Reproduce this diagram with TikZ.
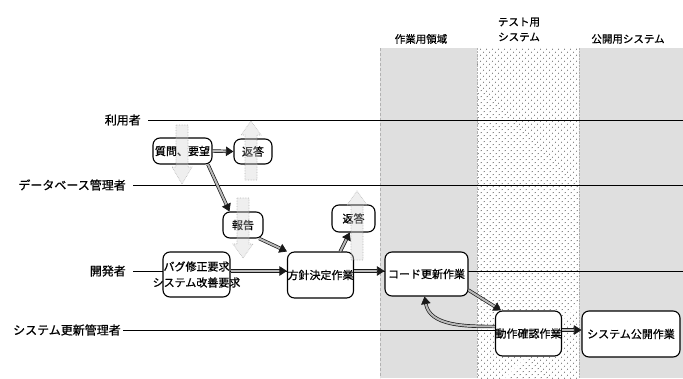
\documentclass[tikz,border=0pt]{standalone}
\usepackage{fontspec}
\newfontfamily\jp[FakeBold=0.8]{Noto Sans CJK JP}
\usetikzlibrary{arrows.meta,patterns.meta}
\begin{document}
\begin{tikzpicture}[x=1pt,y=-1pt,
  box/.style={draw=black, line width=1.1pt, rounded corners=7pt, fill=white, inner sep=0pt, font=\jp\fontsize{11}{16}\selectfont, align=center},
  lanelab/.style={font=\jp\fontsize{12}{14}\selectfont, anchor=east, inner sep=0pt},
  colhead/.style={font=\jp\fontsize{10.5}{15}\selectfont, align=center, inner sep=0pt},
  laneline/.style={line width=0.9pt, draw=black},
  fat/.style={draw=black!90, line width=0.7pt, double=gray!55, double distance=2pt, -{Triangle[length=7.5pt,width=9.5pt]}},
  ghost/.style={draw=gray!70, densely dotted, line width=0.6pt, fill=gray!35, fill opacity=0.35, draw opacity=0.8},
  noisecol/.style={fill=gray!25},
  dotcol/.style={pattern={Dots[distance=4pt,radius=0.6pt,angle=45]}, pattern color=black!70}
]
\path[use as bounding box, fill=white] (0,0) rectangle (683,378);

% columns
\fill[noisecol] (380,48) rectangle (477,378);
\fill[dotcol] (477,48) rectangle (579,378);
\fill[noisecol] (579,48) rectangle (683,378);
\draw[gray!60, densely dashed] (380,48) -- (380,378);
\draw[gray!60, densely dotted] (477,48) -- (477,378);
\draw[gray!60, densely dotted] (579,48) -- (579,378);

\node[colhead] (h1) at (421,39) {作業用領域};
\node[colhead] (h2) at (519,29.5) {テスト用\\システム};
\node[colhead] (h3) at (628,39) {公開用システム};

% lanes
\node[lanelab] (u) at (141,120) {利用者};
\node[lanelab] (dba) at (126,185) {データベース管理者};
\node[lanelab] (dev) at (126,271) {開発者};
\node[lanelab] (sys) at (121,330) {システム更新管理者};
\coordinate (ue) at (683,120);
\coordinate (dbe) at (683,185);
\coordinate (deve) at (683,271);
\draw[laneline] ([xshift=7pt]u.east) -- (ue);
\draw[laneline] ([xshift=7pt]dba.east) -- (dbe);
\draw[laneline] ([xshift=7pt]dev.east) -- (deve);

% boxes
\node[box, minimum width=59pt, minimum height=26pt] (q) at (182.5,151) {質問、要望};
\node[box, minimum width=38pt, minimum height=25pt] (r1) at (253,151.5) {返答};
\node[box, minimum width=40pt, minimum height=26pt] (h) at (243,225) {報告};
\node[box, minimum width=43pt, minimum height=27pt] (r2) at (353.5,218.5) {返答};
\node[box, minimum width=67pt, minimum height=45pt] (b) at (196.5,274.5) {\makebox[0pt]{バグ修正要求}\\\makebox[0pt]{システム改善要求}};
\node[box, minimum width=65pt, minimum height=46pt] (p) at (320.5,275) {方針決定作業};
\node[box, minimum width=83pt, minimum height=44pt] (c) at (426.5,274) {コード更新作業};
\node[box, minimum width=65pt, minimum height=45pt] (d) at (528.5,333.5) {動作確認作業};
\node[box, minimum width=98pt, minimum height=46pt] (s) at (631,334) {システム公開作業};
\draw[laneline] ([xshift=2pt]sys.east) -- (d.west |- sys.east);

% ghost data arrows
\path[ghost] (176,125)--(188,125)--(188,167)--(192,167)--(182,184)--(172,167)--(176,167)--cycle;
\path[ghost] (245,180)--(257,180)--(257,135)--(261,135)--(251,121)--(241,135)--(245,135)--cycle;
\path[ghost] (237,198)--(249,198)--(249,244)--(253,244)--(243,258)--(233,244)--(237,244)--cycle;
\path[ghost] (351,260)--(363,260)--(363,205)--(367,205)--(357,191)--(347,205)--(351,205)--cycle;

% connectors
\draw[fat] (q.east) -- (r1.west);
\draw[fat] (q.-28) -- (h.135);
\draw[fat] (h.-40) -- (p.north west);
\draw[fat] (p.50) -- (r2.-105);
\draw[fat] ([yshift=3.5pt]b.east) -- ([yshift=4pt]p.west);
\draw[fat] ([yshift=4pt]p.east) -- ([yshift=3pt]c.west);
\draw[fat] (c.-21) -- (d.140);
\draw[fat] ([yshift=7pt]d.west) to[out=180,in=-80] (c.-95);
\draw[fat] ([yshift=3.5pt]d.east) -- ([yshift=4pt]s.west);
\end{tikzpicture}
\end{document}
